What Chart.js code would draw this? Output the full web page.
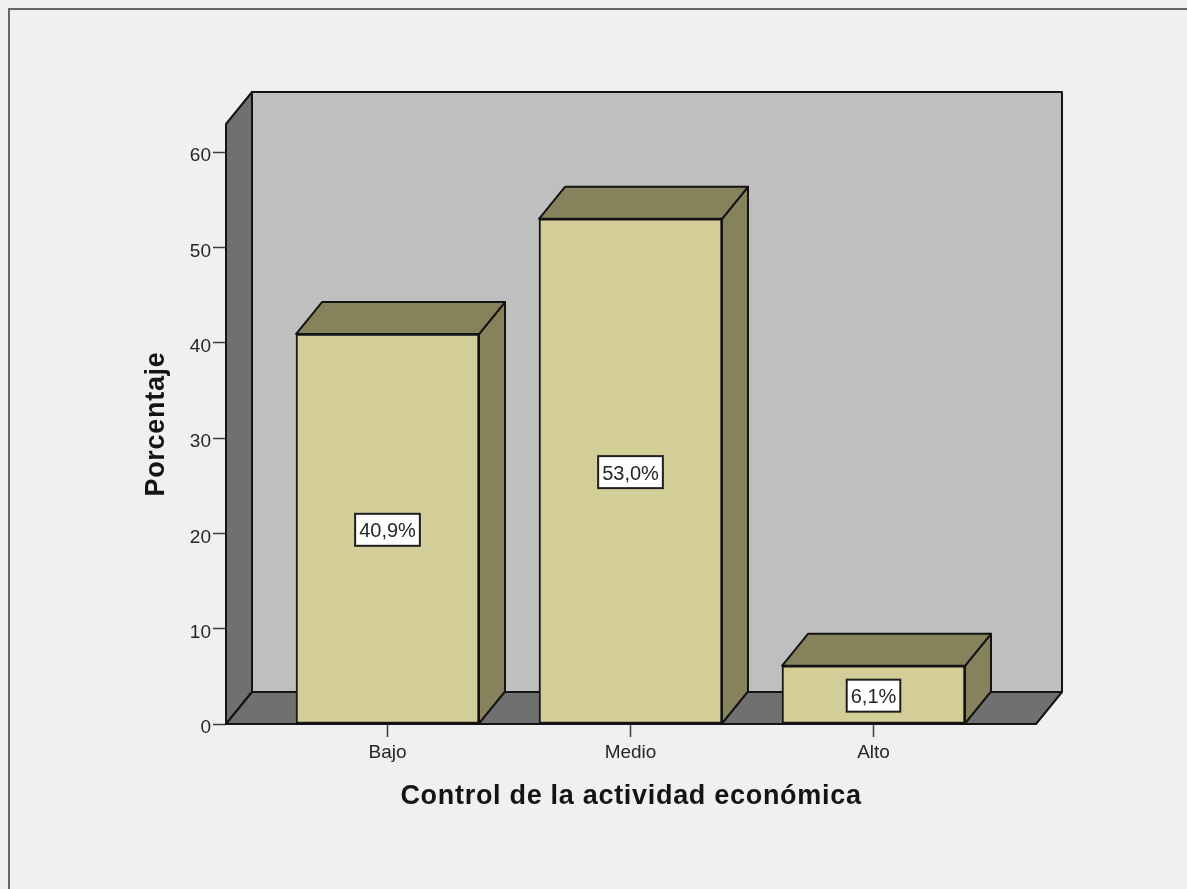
<!DOCTYPE html>
<html lang="es">
<head>
<meta charset="utf-8">
<title>Control de la actividad económica</title>
<script src="https://cdn.jsdelivr.net/npm/chart.js@4"></script>
<style>
  html, body { margin: 0; padding: 0; background: #f0f0f0; overflow: hidden; }
  canvas { display: block; }
</style>
</head>
<body>
<canvas id="chart" width="1187" height="889"></canvas>
<script>
// Values
const categories = ['Bajo', 'Medio', 'Alto'];
const percentages = [40.9, 53.0, 6.1];
const percentLabels = ['40,9%', '53,0%', '6,1%'];
const yTickValues = [0, 10, 20, 30, 40, 50, 60];

// Extruded look of the plot: offset of the back plane from the front plane
const DEPTH_X = 26;
const DEPTH_Y = -32;
const INK = '#141414';
const FONT = '"Liberation Sans", Arial, sans-serif';
const TITLE_TRACKING = '0.7px';

function polygon(ctx, pts, fill) {
  ctx.beginPath();
  pts.forEach(([x, y], i) => i ? ctx.lineTo(x, y) : ctx.moveTo(x, y));
  ctx.closePath();
  ctx.fillStyle = fill;
  ctx.fill();
  ctx.stroke();
}

// Page background and the thin frame along the top and left edges
const framePlugin = {
  id: 'frame',
  beforeDraw(chart) {
    const { ctx, width, height } = chart;
    ctx.save();
    ctx.fillStyle = '#f0f0f0';
    ctx.fillRect(0, 0, width, height);
    ctx.strokeStyle = '#666666';
    ctx.lineWidth = 2;
    ctx.beginPath();
    ctx.moveTo(9, height);
    ctx.lineTo(9, 9);
    ctx.lineTo(width, 9);
    ctx.stroke();
    ctx.restore();
  }
};

// Axis titles are set with a little extra letter spacing
const trackedTitlesPlugin = {
  id: 'trackedTitles',
  afterLayout(chart) {
    Object.values(chart.scales).forEach(scale => {
      if (scale.trackedTitle) return;
      scale.trackedTitle = true;
      const drawTitle = scale.drawTitle.bind(scale);
      scale.drawTitle = () => {
        chart.ctx.save();
        chart.ctx.letterSpacing = TITLE_TRACKING;
        drawTitle();
        chart.ctx.restore();
      };
    });
  }
};

// Walls, floor and the top and side faces of each bar
const depthPlugin = {
  id: 'depth',
  beforeDatasetsDraw(chart) {
    const { ctx, chartArea: a } = chart;
    const dx = DEPTH_X, dy = DEPTH_Y;
    ctx.save();
    ctx.strokeStyle = INK;
    ctx.lineWidth = 2;
    ctx.lineJoin = 'round';
    polygon(ctx, [[a.left + dx, a.top + dy], [a.right + dx, a.top + dy], [a.right + dx, a.bottom + dy], [a.left + dx, a.bottom + dy]], '#bfbfbf');
    polygon(ctx, [[a.left, a.top], [a.left + dx, a.top + dy], [a.left + dx, a.bottom + dy], [a.left, a.bottom]], '#707070');
    polygon(ctx, [[a.left, a.bottom], [a.left + dx, a.bottom + dy], [a.right + dx, a.bottom + dy], [a.right, a.bottom]], '#707070');
    chart.getDatasetMeta(0).data.forEach(bar => {
      const l = bar.x - bar.width / 2, r = bar.x + bar.width / 2;
      const t = bar.y, b = bar.base;
      polygon(ctx, [[r, t], [r + dx, t + dy], [r + dx, b + dy], [r, b]], '#85825c');
      polygon(ctx, [[l, t], [l + dx, t + dy], [r + dx, t + dy], [r, t]], '#85825c');
    });
    ctx.restore();
  },
  // White value boxes centred on each bar's front face
  afterDatasetsDraw(chart) {
    const { ctx } = chart;
    ctx.save();
    ctx.font = '20px ' + FONT;
    ctx.textAlign = 'center';
    ctx.textBaseline = 'middle';
    chart.getDatasetMeta(0).data.forEach((bar, i) => {
      const text = percentLabels[i];
      const w = ctx.measureText(text).width + 8;
      const h = 32;
      const cx = bar.x;
      const cy = (bar.y + bar.base) / 2 + 1;
      ctx.fillStyle = '#ffffff';
      ctx.strokeStyle = '#1e1e1e';
      ctx.lineWidth = 2;
      ctx.fillRect(cx - w / 2, cy - h / 2, w, h);
      ctx.strokeRect(cx - w / 2, cy - h / 2, w, h);
      ctx.fillStyle = '#262626';
      ctx.fillText(text, cx, cy + 2);
    });
    ctx.restore();
  }
};

new Chart(document.getElementById('chart'), {
  type: 'bar',
  data: {
    datasets: [{
      data: percentages.map((v, i) => ({ x: i, y: v })),
      backgroundColor: '#d3ce97',
      borderColor: INK,
      borderWidth: 2,
      borderSkipped: false,
      barThickness: 183
    }]
  },
  options: {
    responsive: false,
    animation: false,
    layout: { padding: { top: 124, right: 151, left: 0, bottom: 0 } },
    plugins: { legend: { display: false }, tooltip: { enabled: false } },
    scales: {
      x: {
        type: 'linear',
        offset: false,
        min: -0.6646,
        max: 2.6687,
        afterBuildTicks(scale) { scale.ticks = categories.map((_, i) => ({ value: i })); },
        afterFit(scale) { scale.height = 165; },
        grid: { offset: false, drawOnChartArea: false, tickColor: '#3c3c3c', tickLength: 13, tickWidth: 1.5 },
        border: { display: false },
        ticks: {
          autoSkip: false,
          maxRotation: 0,
          padding: 4,
          color: '#262626',
          font: { family: FONT, size: 19 },
          callback: value => categories[value]
        },
        title: {
          display: true,
          text: 'Control de la actividad económica',
          color: '#141414',
          font: { family: FONT, size: 27, weight: 'bold' },
          padding: { top: 0, bottom: 76 }
        }
      },
      y: {
        type: 'linear',
        min: 0,
        max: 62.94,
        afterBuildTicks(scale) { scale.ticks = yTickValues.map(v => ({ value: v })); },
        afterFit(scale) { scale.width = 226; },
        grid: { drawOnChartArea: false, tickColor: '#3c3c3c', tickLength: 13, tickWidth: 1.5 },
        border: { display: false },
        ticks: {
          padding: 2,
          labelOffset: 4,
          color: '#262626',
          font: { family: FONT, size: 19 }
        },
        title: {
          display: true,
          text: 'Porcentaje',
          color: '#141414',
          font: { family: FONT, size: 27, weight: 'bold' },
          padding: { top: 140, bottom: 0 }
        }
      }
    }
  },
  plugins: [framePlugin, trackedTitlesPlugin, depthPlugin]
});
</script>
</body>
</html>
